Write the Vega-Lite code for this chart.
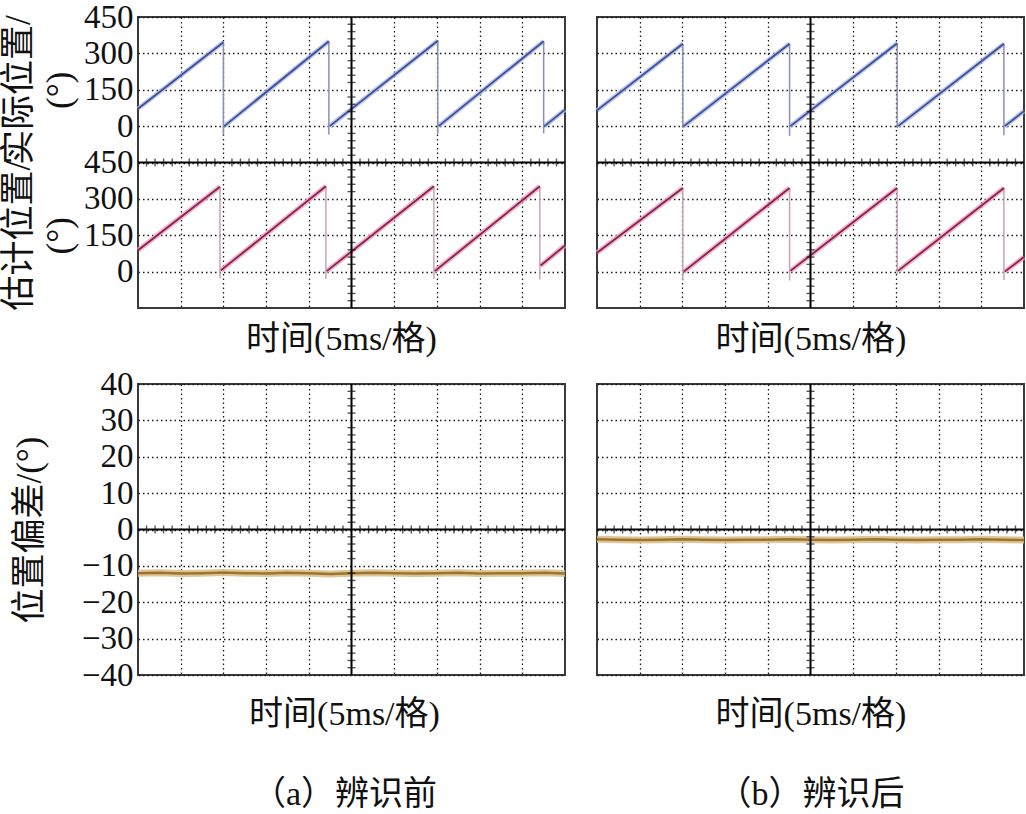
{
"$schema": "https://vega.github.io/schema/vega-lite/v6.json",
"padding": 0,
"background": "white",
"datasets": {
"act_a": [
{"s":1,"k":"r","t":0,"v":72},{"s":1,"k":"r","t":2.0,"v":346},
{"s":2,"k":"d","t":2.0,"v":346},{"s":2,"k":"d","t":2.0,"v":-38},
{"s":3,"k":"r","t":2.02,"v":0},{"s":3,"k":"r","t":4.47,"v":350},
{"s":4,"k":"d","t":4.47,"v":350},{"s":4,"k":"d","t":4.47,"v":-35},
{"s":5,"k":"r","t":4.49,"v":0},{"s":5,"k":"r","t":7.02,"v":352},
{"s":6,"k":"d","t":7.02,"v":352},{"s":6,"k":"d","t":7.02,"v":-32},
{"s":7,"k":"r","t":7.04,"v":0},{"s":7,"k":"r","t":9.5,"v":350},
{"s":8,"k":"d","t":9.5,"v":350},{"s":8,"k":"d","t":9.5,"v":-30},
{"s":9,"k":"r","t":9.52,"v":0},{"s":9,"k":"r","t":10,"v":68}
],
"est_a": [
{"s":1,"k":"r","t":0,"v":88},{"s":1,"k":"r","t":1.92,"v":350},
{"s":2,"k":"d","t":1.92,"v":350},{"s":2,"k":"d","t":1.92,"v":-28},
{"s":3,"k":"r","t":1.94,"v":5},{"s":3,"k":"r","t":4.4,"v":352},
{"s":4,"k":"d","t":4.4,"v":352},{"s":4,"k":"d","t":4.4,"v":-30},
{"s":5,"k":"r","t":4.42,"v":2},{"s":5,"k":"r","t":6.93,"v":352},
{"s":6,"k":"d","t":6.93,"v":352},{"s":6,"k":"d","t":6.93,"v":-30},
{"s":7,"k":"r","t":6.95,"v":2},{"s":7,"k":"r","t":9.41,"v":352},
{"s":8,"k":"d","t":9.41,"v":352},{"s":8,"k":"d","t":9.41,"v":-32},
{"s":9,"k":"r","t":9.43,"v":25},{"s":9,"k":"r","t":10,"v":108}
],
"act_b": [
{"s":1,"k":"r","t":0,"v":65},{"s":1,"k":"r","t":2.01,"v":340},
{"s":2,"k":"d","t":2.01,"v":340},{"s":2,"k":"d","t":2.01,"v":-8},
{"s":3,"k":"r","t":2.03,"v":0},{"s":3,"k":"r","t":4.51,"v":340},
{"s":4,"k":"d","t":4.51,"v":340},{"s":4,"k":"d","t":4.51,"v":-40},
{"s":5,"k":"r","t":4.53,"v":0},{"s":5,"k":"r","t":7.03,"v":342},
{"s":6,"k":"d","t":7.03,"v":342},{"s":6,"k":"d","t":7.03,"v":-8},
{"s":7,"k":"r","t":7.05,"v":0},{"s":7,"k":"r","t":9.53,"v":340},
{"s":8,"k":"d","t":9.53,"v":340},{"s":8,"k":"d","t":9.53,"v":-38},
{"s":9,"k":"r","t":9.55,"v":0},{"s":9,"k":"r","t":10,"v":62}
],
"est_b": [
{"s":1,"k":"r","t":0,"v":78},{"s":1,"k":"r","t":2.01,"v":345},
{"s":2,"k":"d","t":2.01,"v":345},{"s":2,"k":"d","t":2.01,"v":-37},
{"s":3,"k":"r","t":2.03,"v":0},{"s":3,"k":"r","t":4.51,"v":345},
{"s":4,"k":"d","t":4.51,"v":345},{"s":4,"k":"d","t":4.51,"v":-37},
{"s":5,"k":"r","t":4.53,"v":3},{"s":5,"k":"r","t":7.03,"v":345},
{"s":6,"k":"d","t":7.03,"v":345},{"s":6,"k":"d","t":7.03,"v":-10},
{"s":7,"k":"r","t":7.05,"v":3},{"s":7,"k":"r","t":9.53,"v":345},
{"s":8,"k":"d","t":9.53,"v":345},{"s":8,"k":"d","t":9.53,"v":-35},
{"s":9,"k":"r","t":9.55,"v":0},{"s":9,"k":"r","t":10,"v":60}
],
"err_a": [
{"t":0,"v":-12.0},{"t":0.5,"v":-11.9},{"t":1,"v":-12.1},{"t":1.5,"v":-12.0},{"t":2,"v":-11.8},{"t":2.5,"v":-12.0},{"t":3,"v":-12.1},{"t":3.5,"v":-11.9},{"t":4,"v":-12.0},{"t":4.5,"v":-12.2},{"t":5,"v":-12.0},{"t":5.5,"v":-11.9},{"t":6,"v":-12.0},{"t":6.5,"v":-12.1},{"t":7,"v":-12.0},{"t":7.5,"v":-11.9},{"t":8,"v":-12.1},{"t":8.5,"v":-12.0},{"t":9,"v":-12.0},{"t":9.5,"v":-11.9},{"t":10,"v":-12.1}
],
"err_b": [
{"t":0,"v":-2.7},{"t":0.5,"v":-2.8},{"t":1,"v":-2.9},{"t":1.5,"v":-2.8},{"t":2,"v":-2.7},{"t":2.5,"v":-2.8},{"t":3,"v":-2.9},{"t":3.5,"v":-2.8},{"t":4,"v":-2.8},{"t":4.5,"v":-2.7},{"t":5,"v":-2.8},{"t":5.5,"v":-2.9},{"t":6,"v":-2.8},{"t":6.5,"v":-2.7},{"t":7,"v":-2.8},{"t":7.5,"v":-2.9},{"t":8,"v":-2.8},{"t":8.5,"v":-2.8},{"t":9,"v":-2.7},{"t":9.5,"v":-2.8},{"t":10,"v":-2.9}
],
"mx": [
{"p":0.2},{"p":0.4},{"p":0.6},{"p":0.8},{"p":1.2},{"p":1.4},{"p":1.6},{"p":1.8},{"p":2.2},{"p":2.4},{"p":2.6},{"p":2.8},{"p":3.2},{"p":3.4},{"p":3.6},{"p":3.8},{"p":4.2},{"p":4.4},{"p":4.6},{"p":4.8},{"p":5.2},{"p":5.4},{"p":5.6},{"p":5.8},{"p":6.2},{"p":6.4},{"p":6.6},{"p":6.8},{"p":7.2},{"p":7.4},{"p":7.6},{"p":7.8},{"p":8.2},{"p":8.4},{"p":8.6},{"p":8.8},{"p":9.2},{"p":9.4},{"p":9.6},{"p":9.8}
],
"myt": [
{"p":-720},{"p":-690},{"p":-660},{"p":-630},{"p":-570},{"p":-540},{"p":-510},{"p":-480},{"p":-420},{"p":-390},{"p":-360},{"p":-330},{"p":-270},{"p":-240},{"p":-210},{"p":-180},{"p":-120},{"p":-90},{"p":-60},{"p":-30},{"p":30},{"p":60},{"p":90},{"p":120},{"p":180},{"p":210},{"p":240},{"p":270},{"p":330},{"p":360},{"p":390},{"p":420}
],
"myb": [
{"p":-38},{"p":-36},{"p":-34},{"p":-32},{"p":-28},{"p":-26},{"p":-24},{"p":-22},{"p":-18},{"p":-16},{"p":-14},{"p":-12},{"p":-8},{"p":-6},{"p":-4},{"p":-2},{"p":2},{"p":4},{"p":6},{"p":8},{"p":12},{"p":14},{"p":16},{"p":18},{"p":22},{"p":24},{"p":26},{"p":28},{"p":32},{"p":34},{"p":36},{"p":38}
]
},
"hconcat": [
{
"spacing": 10,
"vconcat": [
{
"width": 427, "height": 291,
"resolve": {"scale": {"y": "independent"}, "axis": {"x": "independent", "y": "independent"}},
"layer": [
{"data": {"name": "act_a"}, "transform": [{"filter": "datum.k == 'r'"}],
 "mark": {"type": "line", "color": "#aab6e2", "strokeWidth": 4.5, "opacity": 0.8},
 "encoding": {
  "x": {"field": "t", "type": "quantitative", "scale": {"domain": [0, 10], "nice": false},
        "axis": {"orient": "bottom", "values": [1,2,3,4,6,7,8,9], "grid": true, "labels": false, "ticks": false, "domain": false, "title": "时间(5ms/格)", "titleX": 203, "titlePadding": 14, "titleFontSize": 34}},
  "y": {"field": "v", "type": "quantitative", "scale": {"domain": [-750, 450], "nice": false},
        "axis": {"orient": "left", "values": [0,150,300,450], "grid": true, "ticks": false, "domain": false, "title": ["实际位置/", "(°)"], "titleX": -120, "titleY": 72.75, "titleBaseline": "middle", "titleAlign": "center", "titleFontSize": 35, "titleLineHeight": 41}},
  "detail": {"field": "s", "type": "nominal"}}},
{"data": {"name": "act_a"}, "transform": [{"filter": "datum.k == 'd'"}],
 "mark": {"type": "line", "color": "#8891b8", "strokeWidth": 1.5},
 "encoding": {
  "x": {"field": "t", "type": "quantitative", "scale": {"domain": [0, 10], "nice": false}, "axis": null},
  "y": {"field": "v", "type": "quantitative", "scale": {"domain": [-750, 450], "nice": false}, "axis": null},
  "detail": {"field": "s", "type": "nominal"}}},
{"data": {"name": "act_a"}, "transform": [{"filter": "datum.k == 'r'"}],
 "mark": {"type": "line", "color": "#3d4f9a", "strokeWidth": 1.8},
 "encoding": {
  "x": {"field": "t", "type": "quantitative", "scale": {"domain": [0, 10], "nice": false}, "axis": null},
  "y": {"field": "v", "type": "quantitative", "scale": {"domain": [-750, 450], "nice": false}, "axis": null},
  "detail": {"field": "s", "type": "nominal"}}},
{"data": {"name": "est_a"}, "transform": [{"filter": "datum.k == 'r'"}],
 "mark": {"type": "line", "color": "#e9a3c0", "strokeWidth": 5, "opacity": 0.8},
 "encoding": {
  "x": {"field": "t", "type": "quantitative", "scale": {"domain": [0, 10], "nice": false}, "axis": null},
  "y": {"field": "v", "type": "quantitative", "scale": {"domain": [-150, 1050], "nice": false},
        "axis": {"orient": "left", "values": [0,150,300,450], "grid": true, "ticks": false, "domain": false, "title": ["估计位置/", "(°)"], "titleX": -120, "titleY": 218.25, "titleBaseline": "middle", "titleAlign": "center", "titleFontSize": 35, "titleLineHeight": 41}},
  "detail": {"field": "s", "type": "nominal"}}},
{"data": {"name": "est_a"}, "transform": [{"filter": "datum.k == 'd'"}],
 "mark": {"type": "line", "color": "#c9a3b8", "strokeWidth": 1.5},
 "encoding": {
  "x": {"field": "t", "type": "quantitative", "scale": {"domain": [0, 10], "nice": false}, "axis": null},
  "y": {"field": "v", "type": "quantitative", "scale": {"domain": [-150, 1050], "nice": false}, "axis": null},
  "detail": {"field": "s", "type": "nominal"}}},
{"data": {"name": "est_a"}, "transform": [{"filter": "datum.k == 'r'"}],
 "mark": {"type": "line", "color": "#8c1f4f", "strokeWidth": 1.8},
 "encoding": {
  "x": {"field": "t", "type": "quantitative", "scale": {"domain": [0, 10], "nice": false}, "axis": null},
  "y": {"field": "v", "type": "quantitative", "scale": {"domain": [-150, 1050], "nice": false}, "axis": null},
  "detail": {"field": "s", "type": "nominal"}}},
{"data": {"values": [{}]},
 "mark": {"type": "rule", "color": "#000", "strokeWidth": 2},
 "encoding": {
  "x": {"datum": 5, "scale": {"domain": [0, 10], "nice": false}, "axis": null},
  "y": {"datum": -750, "scale": {"domain": [-750, 450], "nice": false}, "axis": null},
  "y2": {"datum": 450}}},
{"data": {"values": [{}]},
 "mark": {"type": "rule", "color": "#000", "strokeWidth": 2},
 "encoding": {
  "x": {"datum": 0, "scale": {"domain": [0, 10], "nice": false}, "axis": null},
  "x2": {"datum": 10},
  "y": {"datum": -150, "scale": {"domain": [-750, 450], "nice": false}, "axis": null}}},
{"data": {"name": "mx"},
 "mark": {"type": "tick", "orient": "vertical", "size": 8, "thickness": 1.4, "color": "#111"},
 "encoding": {
  "x": {"field": "p", "type": "quantitative", "scale": {"domain": [0, 10], "nice": false}, "axis": null},
  "y": {"datum": -150, "scale": {"domain": [-750, 450], "nice": false}, "axis": null}}},
{"data": {"name": "myt"},
 "mark": {"type": "tick", "orient": "horizontal", "size": 8, "thickness": 1.4, "color": "#111"},
 "encoding": {
  "y": {"field": "p", "type": "quantitative", "scale": {"domain": [-750, 450], "nice": false}, "axis": null},
  "x": {"datum": 5, "scale": {"domain": [0, 10], "nice": false}, "axis": null}}}
]
},
{
"width": 427, "height": 291,
"resolve": {"axis": {"x": "independent", "y": "independent"}},
"layer": [
{"data": {"name": "err_a"},
 "mark": {"type": "line", "color": "#dcc089", "strokeWidth": 7, "opacity": 0.9},
 "encoding": {
  "x": {"field": "t", "type": "quantitative", "scale": {"domain": [0, 10], "nice": false},
        "axis": {"orient": "bottom", "values": [1,2,3,4,6,7,8,9], "grid": true, "labels": false, "ticks": false, "domain": false, "title": ["时间(5ms/格)", "（a）辨识前"], "titleX": 206, "titleLineHeight": 80, "titlePadding": 22, "titleFontSize": 34}},
  "y": {"field": "v", "type": "quantitative", "scale": {"domain": [-40, 40], "nice": false},
        "axis": {"orient": "left", "values": [-40,-30,-20,-10,0,10,20,30,40], "grid": true, "ticks": false, "domain": false, "title": "位置偏差/(°)", "titleX": -109, "titleBaseline": "middle", "titleFontSize": 35}}}},
{"data": {"name": "err_a"},
 "mark": {"type": "line", "color": "#9b7530", "strokeWidth": 2.5},
 "encoding": {
  "x": {"field": "t", "type": "quantitative", "scale": {"domain": [0, 10], "nice": false}, "axis": null},
  "y": {"field": "v", "type": "quantitative", "scale": {"domain": [-40, 40], "nice": false}, "axis": null}}},
{"data": {"values": [{}]},
 "mark": {"type": "rule", "color": "#000", "strokeWidth": 2},
 "encoding": {
  "x": {"datum": 5, "scale": {"domain": [0, 10], "nice": false}, "axis": null},
  "y": {"datum": -40, "scale": {"domain": [-40, 40], "nice": false}, "axis": null},
  "y2": {"datum": 40}}},
{"data": {"values": [{}]},
 "mark": {"type": "rule", "color": "#000", "strokeWidth": 2},
 "encoding": {
  "x": {"datum": 0, "scale": {"domain": [0, 10], "nice": false}, "axis": null},
  "x2": {"datum": 10},
  "y": {"datum": 0, "scale": {"domain": [-40, 40], "nice": false}, "axis": null}}},
{"data": {"name": "mx"},
 "mark": {"type": "tick", "orient": "vertical", "size": 8, "thickness": 1.4, "color": "#111"},
 "encoding": {
  "x": {"field": "p", "type": "quantitative", "scale": {"domain": [0, 10], "nice": false}, "axis": null},
  "y": {"datum": 0, "scale": {"domain": [-40, 40], "nice": false}, "axis": null}}},
{"data": {"name": "myb"},
 "mark": {"type": "tick", "orient": "horizontal", "size": 8, "thickness": 1.4, "color": "#111"},
 "encoding": {
  "y": {"field": "p", "type": "quantitative", "scale": {"domain": [-40, 40], "nice": false}, "axis": null},
  "x": {"datum": 5, "scale": {"domain": [0, 10], "nice": false}, "axis": null}}}
]
}
]
},
{
"spacing": 10,
"vconcat": [
{
"width": 427, "height": 291,
"resolve": {"scale": {"y": "independent"}, "axis": {"x": "independent", "y": "independent"}},
"layer": [
{"data": {"name": "act_b"}, "transform": [{"filter": "datum.k == 'r'"}],
 "mark": {"type": "line", "color": "#aab6e2", "strokeWidth": 4.5, "opacity": 0.8},
 "encoding": {
  "x": {"field": "t", "type": "quantitative", "scale": {"domain": [0, 10], "nice": false},
        "axis": {"orient": "bottom", "values": [1,2,3,4,6,7,8,9], "grid": true, "labels": false, "ticks": false, "domain": false, "title": "时间(5ms/格)", "titlePadding": 14, "titleFontSize": 34}},
  "y": {"field": "v", "type": "quantitative", "scale": {"domain": [-750, 450], "nice": false},
        "axis": {"orient": "left", "values": [0,150,300,450], "grid": true, "ticks": false, "domain": false, "labelExpr": "' '", "labelPadding": 0, "title": null}},
  "detail": {"field": "s", "type": "nominal"}}},
{"data": {"name": "act_b"}, "transform": [{"filter": "datum.k == 'd'"}],
 "mark": {"type": "line", "color": "#8891b8", "strokeWidth": 1.5},
 "encoding": {
  "x": {"field": "t", "type": "quantitative", "scale": {"domain": [0, 10], "nice": false}, "axis": null},
  "y": {"field": "v", "type": "quantitative", "scale": {"domain": [-750, 450], "nice": false}, "axis": null},
  "detail": {"field": "s", "type": "nominal"}}},
{"data": {"name": "act_b"}, "transform": [{"filter": "datum.k == 'r'"}],
 "mark": {"type": "line", "color": "#3d4f9a", "strokeWidth": 1.8},
 "encoding": {
  "x": {"field": "t", "type": "quantitative", "scale": {"domain": [0, 10], "nice": false}, "axis": null},
  "y": {"field": "v", "type": "quantitative", "scale": {"domain": [-750, 450], "nice": false}, "axis": null},
  "detail": {"field": "s", "type": "nominal"}}},
{"data": {"name": "est_b"}, "transform": [{"filter": "datum.k == 'r'"}],
 "mark": {"type": "line", "color": "#e9a3c0", "strokeWidth": 5, "opacity": 0.8},
 "encoding": {
  "x": {"field": "t", "type": "quantitative", "scale": {"domain": [0, 10], "nice": false}, "axis": null},
  "y": {"field": "v", "type": "quantitative", "scale": {"domain": [-150, 1050], "nice": false},
        "axis": {"orient": "left", "values": [0,150,300,450], "grid": true, "ticks": false, "domain": false, "labels": false, "title": null}},
  "detail": {"field": "s", "type": "nominal"}}},
{"data": {"name": "est_b"}, "transform": [{"filter": "datum.k == 'd'"}],
 "mark": {"type": "line", "color": "#c9a3b8", "strokeWidth": 1.5},
 "encoding": {
  "x": {"field": "t", "type": "quantitative", "scale": {"domain": [0, 10], "nice": false}, "axis": null},
  "y": {"field": "v", "type": "quantitative", "scale": {"domain": [-150, 1050], "nice": false}, "axis": null},
  "detail": {"field": "s", "type": "nominal"}}},
{"data": {"name": "est_b"}, "transform": [{"filter": "datum.k == 'r'"}],
 "mark": {"type": "line", "color": "#8c1f4f", "strokeWidth": 1.8},
 "encoding": {
  "x": {"field": "t", "type": "quantitative", "scale": {"domain": [0, 10], "nice": false}, "axis": null},
  "y": {"field": "v", "type": "quantitative", "scale": {"domain": [-150, 1050], "nice": false}, "axis": null},
  "detail": {"field": "s", "type": "nominal"}}},
{"data": {"values": [{}]},
 "mark": {"type": "rule", "color": "#000", "strokeWidth": 2},
 "encoding": {
  "x": {"datum": 5, "scale": {"domain": [0, 10], "nice": false}, "axis": null},
  "y": {"datum": -750, "scale": {"domain": [-750, 450], "nice": false}, "axis": null},
  "y2": {"datum": 450}}},
{"data": {"values": [{}]},
 "mark": {"type": "rule", "color": "#000", "strokeWidth": 2},
 "encoding": {
  "x": {"datum": 0, "scale": {"domain": [0, 10], "nice": false}, "axis": null},
  "x2": {"datum": 10},
  "y": {"datum": -150, "scale": {"domain": [-750, 450], "nice": false}, "axis": null}}},
{"data": {"name": "mx"},
 "mark": {"type": "tick", "orient": "vertical", "size": 8, "thickness": 1.4, "color": "#111"},
 "encoding": {
  "x": {"field": "p", "type": "quantitative", "scale": {"domain": [0, 10], "nice": false}, "axis": null},
  "y": {"datum": -150, "scale": {"domain": [-750, 450], "nice": false}, "axis": null}}},
{"data": {"name": "myt"},
 "mark": {"type": "tick", "orient": "horizontal", "size": 8, "thickness": 1.4, "color": "#111"},
 "encoding": {
  "y": {"field": "p", "type": "quantitative", "scale": {"domain": [-750, 450], "nice": false}, "axis": null},
  "x": {"datum": 5, "scale": {"domain": [0, 10], "nice": false}, "axis": null}}}
]
},
{
"width": 427, "height": 291,
"resolve": {"axis": {"x": "independent", "y": "independent"}},
"layer": [
{"data": {"name": "err_b"},
 "mark": {"type": "line", "color": "#dcc089", "strokeWidth": 7, "opacity": 0.9},
 "encoding": {
  "x": {"field": "t", "type": "quantitative", "scale": {"domain": [0, 10], "nice": false},
        "axis": {"orient": "bottom", "values": [1,2,3,4,6,7,8,9], "grid": true, "labels": false, "ticks": false, "domain": false, "title": ["时间(5ms/格)", "（b）辨识后"], "titleLineHeight": 80, "titlePadding": 22, "titleFontSize": 34}},
  "y": {"field": "v", "type": "quantitative", "scale": {"domain": [-40, 40], "nice": false},
        "axis": {"orient": "left", "values": [-40,-30,-20,-10,0,10,20,30,40], "grid": true, "ticks": false, "domain": false, "labelExpr": "' '", "labelPadding": 0, "title": null}}}},
{"data": {"name": "err_b"},
 "mark": {"type": "line", "color": "#9b7530", "strokeWidth": 2.5},
 "encoding": {
  "x": {"field": "t", "type": "quantitative", "scale": {"domain": [0, 10], "nice": false}, "axis": null},
  "y": {"field": "v", "type": "quantitative", "scale": {"domain": [-40, 40], "nice": false}, "axis": null}}},
{"data": {"values": [{}]},
 "mark": {"type": "rule", "color": "#000", "strokeWidth": 2},
 "encoding": {
  "x": {"datum": 5, "scale": {"domain": [0, 10], "nice": false}, "axis": null},
  "y": {"datum": -40, "scale": {"domain": [-40, 40], "nice": false}, "axis": null},
  "y2": {"datum": 40}}},
{"data": {"values": [{}]},
 "mark": {"type": "rule", "color": "#000", "strokeWidth": 2},
 "encoding": {
  "x": {"datum": 0, "scale": {"domain": [0, 10], "nice": false}, "axis": null},
  "x2": {"datum": 10},
  "y": {"datum": 0, "scale": {"domain": [-40, 40], "nice": false}, "axis": null}}},
{"data": {"name": "mx"},
 "mark": {"type": "tick", "orient": "vertical", "size": 8, "thickness": 1.4, "color": "#111"},
 "encoding": {
  "x": {"field": "p", "type": "quantitative", "scale": {"domain": [0, 10], "nice": false}, "axis": null},
  "y": {"datum": 0, "scale": {"domain": [-40, 40], "nice": false}, "axis": null}}},
{"data": {"name": "myb"},
 "mark": {"type": "tick", "orient": "horizontal", "size": 8, "thickness": 1.4, "color": "#111"},
 "encoding": {
  "y": {"field": "p", "type": "quantitative", "scale": {"domain": [-40, 40], "nice": false}, "axis": null},
  "x": {"datum": 5, "scale": {"domain": [0, 10], "nice": false}, "axis": null}}}
]
}
]
}
],
"spacing": 2,
"config": {
 "view": {"stroke": "#3a3a3a", "strokeWidth": 2},
 "axis": {
  "labelFont": "'Liberation Serif', serif", "labelFontSize": 33, "labelColor": "#111", "labelPadding": 5,
  "gridColor": "#1a1a1a", "gridDash": [1.5, 3], "gridWidth": 1.3, "gridOpacity": 1,
  "tickColor": "#111", "tickWidth": 1.3,
  "titleFont": "'Liberation Serif', 'Noto Sans CJK SC', serif", "titleFontWeight": "normal", "titleColor": "#111"
 }
}
}
